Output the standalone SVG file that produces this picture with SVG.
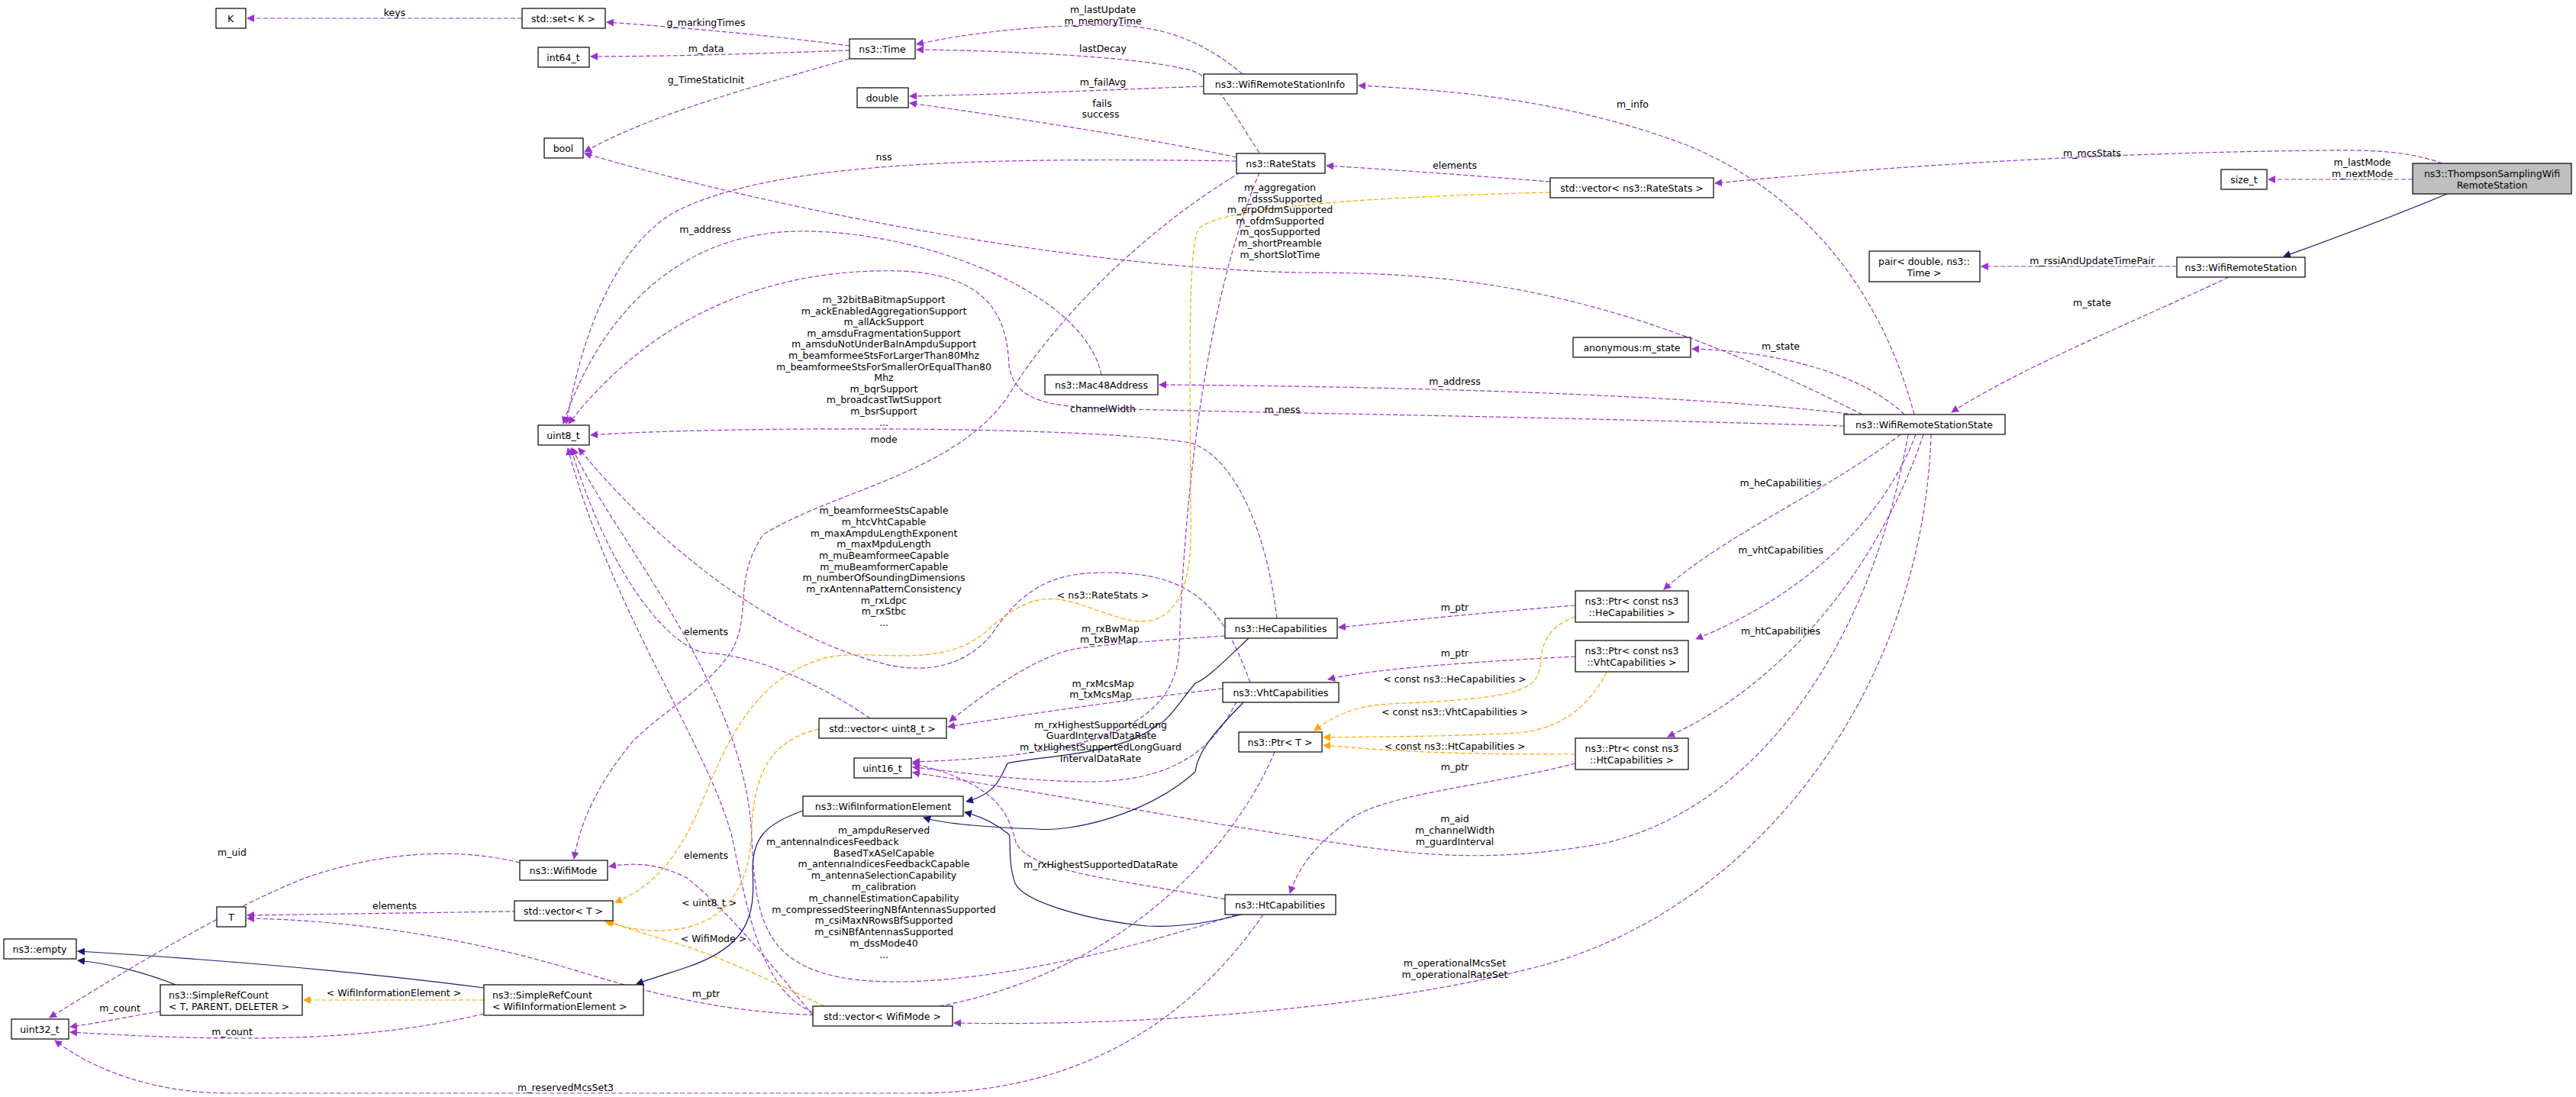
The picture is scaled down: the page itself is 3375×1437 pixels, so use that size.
<svg xmlns="http://www.w3.org/2000/svg" width="3375" height="1437" viewBox="0 0 3375 1437">
<style>
text{font-family:"DejaVu Sans","Liberation Sans",sans-serif;font-size:12.5px;fill:#000;text-anchor:middle;dominant-baseline:central}
.n rect{fill:#fff;stroke:#000;stroke-width:1.2}
.n rect.g{fill:#bfbfbf}
.p{fill:none;stroke:#9a32cd;stroke-width:1.2;stroke-dasharray:6,3;marker-end:url(#mp)}
.o{fill:none;stroke:#ffa500;stroke-width:1.2;stroke-dasharray:6,3;marker-end:url(#mo)}
.b{fill:none;stroke:#191970;stroke-width:1.2;marker-end:url(#mb)}
</style>
<defs>
<marker id="mp" viewBox="0 0 10 10" refX="9" refY="5" markerWidth="10" markerHeight="10" markerUnits="userSpaceOnUse" orient="auto"><path d="M0,0L10,5L0,10z" fill="#9a32cd"/></marker>
<marker id="mo" viewBox="0 0 10 10" refX="9" refY="5" markerWidth="10" markerHeight="10" markerUnits="userSpaceOnUse" orient="auto"><path d="M0,0L10,5L0,10z" fill="#ffa500"/></marker>
<marker id="mb" viewBox="0 0 10 10" refX="9" refY="5" markerWidth="10" markerHeight="10" markerUnits="userSpaceOnUse" orient="auto"><path d="M0,0L10,5L0,10z" fill="#191970"/></marker>
</defs>
<rect width="3375" height="1437" fill="#fff"/>
<g id="edges">
<path class="p" d="M684,24L324,24"/>
<path class="p" d="M1113,60C1000,45 880,35 795,29"/>
<path class="p" d="M1113,66C1000,70 880,74 774,74"/>
<path class="p" d="M1113,77C1000,110 850,150 766,199"/>
<path class="p" d="M1628,97C1560,40 1500,33 1445,33C1350,33 1260,45 1201,58"/>
<path class="p" d="M1650,200C1610,140 1590,95 1551,90C1480,73 1300,66 1201,65"/>
<path class="p" d="M1577,113C1450,118 1300,124 1192,126"/>
<path class="p" d="M1620,206C1500,180 1300,150 1192,135"/>
<path class="p" d="M1620,211C1250,205 1000,215 880,280C800,330 760,450 742,555"/>
<path class="p" d="M2440,543C2100,370 1900,357 1700,357C1400,350 1000,270 766,201"/>
<path class="p" d="M2508,543C2470,400 2380,260 2210,190C2050,130 1900,118 1780,112"/>
<path class="p" d="M2031,238C1930,230 1820,222 1738,217"/>
<path class="p" d="M3200,214C3160,200 3120,196 3050,197C2700,200 2400,225 2247,240"/>
<path class="p" d="M3161,235L2972,235"/>
<path class="p" d="M2852,349L2596,349"/>
<path class="p" d="M2920,363C2800,420 2650,480 2557,540"/>
<path class="p" d="M2495,543C2440,490 2330,460 2217,457"/>
<path class="p" d="M2430,543C2200,515 1800,506 1519,504"/>
<path class="p" d="M2416,558C2000,545 1600,540 1445,535C1360,532 1330,520 1322,480C1320,420 1300,360 1180,355C1000,350 850,420 745,555"/>
<path class="p" d="M1673,810C1660,700 1620,600 1560,580C1400,555 900,560 774,570"/>
<path class="p" d="M1443,491C1420,380 1200,300 1044,303C900,305 790,400 738,555"/>
<path class="p" d="M1625,226C1500,300 1380,420 1320,520C1250,620 1100,640 1000,700C960,760 985,800 960,850C930,900 870,930 830,970C780,1030 760,1080 752,1125"/>
<path class="p" d="M1650,226C1570,420 1550,700 1545,850C1540,950 1440,990 1196,998"/>
<path class="p" d="M1638,894C1600,790 1560,750 1447,750C1380,750 1340,770 1300,830C1260,880 1200,880 1160,870C1000,830 850,700 758,587"/>
<path class="p" d="M1140,941C1080,900 1000,860 925,855C880,850 800,760 748,587"/>
<path class="p" d="M1620,1198C1400,1270 1200,1300 1100,1280C1000,1260 990,1200 985,1100C980,900 800,700 750,587"/>
<path class="p" d="M1065,1326C1000,1300 980,1200 960,1100C930,980 800,800 744,587"/>
<path class="p" d="M1602,902C1450,920 1350,935 1242,952"/>
<path class="p" d="M1605,833C1500,840 1440,845 1408,850C1360,860 1300,900 1244,945"/>
<path class="p" d="M1620,919C1590,980 1540,1025 1420,1024C1320,1022 1250,1010 1196,1005"/>
<path class="p" d="M1605,1178C1450,1150 1340,1140 1330,1100C1320,1060 1300,1025 1196,1000"/>
<path class="p" d="M2500,569C2450,850 2300,1060 2100,1105C1900,1140 1800,1110 1600,1080C1400,1045 1250,1020 1196,1012"/>
<path class="p" d="M2490,569C2400,640 2260,700 2180,772"/>
<path class="p" d="M2510,569C2460,700 2340,790 2222,837"/>
<path class="p" d="M2520,569C2460,750 2330,900 2185,965"/>
<path class="p" d="M2530,569C2520,900 2300,1200 2000,1270C1800,1320 1500,1345 1250,1340"/>
<path class="p" d="M1655,1198C1550,1350 1400,1432 1200,1432L300,1432C200,1432 120,1400 72,1363"/>
<path class="p" d="M2064,793C1950,802 1850,812 1754,822"/>
<path class="p" d="M2064,860C1950,866 1800,875 1740,890"/>
<path class="p" d="M2064,1000C1950,1030 1800,1040 1760,1080C1720,1110 1700,1140 1690,1170"/>
<path class="p" d="M1670,985C1600,1150 1400,1330 1100,1330C950,1330 850,1300 750,1270C600,1225 450,1205 324,1203"/>
<path class="p" d="M803,1192L324,1199"/>
<path class="p" d="M1065,1330C1000,1250 950,1190 900,1150C860,1130 830,1130 798,1135"/>
<path class="p" d="M681,1130C600,1110 500,1115 400,1150C300,1190 200,1250 65,1333"/>
<path class="p" d="M210,1325C160,1333 130,1340 92,1345"/>
<path class="p" d="M634,1328C500,1360 350,1368 92,1352"/>
<path class="o" d="M634,1310L398,1310"/>
<path class="b" d="M230,1290C180,1270 140,1262 102,1258"/>
<path class="b" d="M634,1294C450,1270 250,1255 102,1246"/>
<path class="b" d="M1052,1062C1000,1080 986,1100 986,1140C990,1200 980,1240 900,1267C870,1277 850,1283 834,1289"/>
<path class="b" d="M1636,836C1600,870 1580,890 1566,895C1545,920 1530,945 1517,949C1470,990 1360,990 1320,1000C1310,1020 1305,1040 1266,1050"/>
<path class="b" d="M1630,919C1600,950 1570,980 1566,1011C1500,1070 1400,1090 1359,1086C1300,1084 1240,1080 1210,1071"/>
<path class="b" d="M1626,1198C1580,1210 1540,1215 1503,1213C1420,1205 1340,1180 1330,1157C1320,1130 1325,1100 1322,1093C1300,1075 1280,1068 1264,1064"/>
<path class="b" d="M3206,254C3120,290 3050,315 2992,336"/>
<path class="o" d="M2031,252C1800,258 1600,270 1570,300C1555,330 1560,500 1560,700C1560,770 1540,830 1470,810C1400,790 1370,760 1300,820C1240,880 1150,850 1090,860C1000,880 960,950 920,1050C890,1120 860,1160 806,1182"/>
<path class="o" d="M1073,955C1010,970 990,1010 985,1080C985,1150 960,1200 900,1215C850,1225 820,1215 792,1206"/>
<path class="o" d="M1080,1318C1020,1290 960,1260 900,1240C850,1225 820,1215 795,1207"/>
<path class="o" d="M2064,808C2030,820 2020,840 2018,870C2015,905 1990,915 1820,922C1770,925 1745,940 1722,957"/>
<path class="o" d="M2105,880C2080,930 2040,955 1990,960C1900,965 1800,965 1734,966"/>
<path class="o" d="M2064,988C1950,988 1850,987 1734,976"/>
</g>
<g id="labels">
<text x="517" y="16">keys</text>
<text x="925" y="29">g_markingTimes</text>
<text x="925" y="63">m_data</text>
<text x="925" y="104">g_TimeStaticInit</text>
<text x="1445" y="12">m_lastUpdate</text><text x="1445" y="27">m_memoryTime</text>
<text x="1445" y="63">lastDecay</text>
<text x="1445" y="107">m_failAvg</text>
<text x="1444" y="135">fails</text><text x="1442" y="149">success</text>
<text x="1158" y="205">nss</text>
<text x="1906" y="216">elements</text>
<text x="2139" y="136">m_info</text>
<text x="2741" y="200">m_mcsStats</text>
<text x="3095" y="212">m_lastMode</text><text x="3095" y="227">m_nextMode</text>
<text x="1677" y="245">m_aggregation</text><text x="1677" y="260">m_dsssSupported</text><text x="1677" y="274">m_erpOfdmSupported</text><text x="1677" y="289">m_ofdmSupported</text><text x="1677" y="303">m_qosSupported</text><text x="1677" y="318">m_shortPreamble</text><text x="1677" y="333">m_shortSlotTime</text>
<text x="924" y="300">m_address</text>
<text x="1158" y="392">m_32bitBaBitmapSupport</text><text x="1158" y="407">m_ackEnabledAggregationSupport</text><text x="1158" y="421">m_allAckSupport</text><text x="1158" y="436">m_amsduFragmentationSupport</text><text x="1158" y="450">m_amsduNotUnderBaInAmpduSupport</text><text x="1158" y="465">m_beamformeeStsForLargerThan80Mhz</text><text x="1158" y="480">m_beamformeeStsForSmallerOrEqualThan80</text><text x="1158" y="494">Mhz</text><text x="1158" y="509">m_bqrSupport</text><text x="1158" y="523">m_broadcastTwtSupport</text><text x="1158" y="538">m_bsrSupport</text><text x="1158" y="553">...</text>
<text x="2741" y="341">m_rssiAndUpdateTimePair</text>
<text x="2741" y="396">m_state</text>
<text x="2333" y="453">m_state</text>
<text x="1906" y="499">m_address</text>
<text x="1445" y="535">channelWidth</text><text x="1680" y="536">m_ness</text>
<text x="1158" y="575">mode</text>
<text x="2333" y="632">m_heCapabilities</text>
<text x="1158" y="668">m_beamformeeStsCapable</text><text x="1158" y="683">m_htcVhtCapable</text><text x="1158" y="698">m_maxAmpduLengthExponent</text><text x="1158" y="712">m_maxMpduLength</text><text x="1158" y="727">m_muBeamformeeCapable</text><text x="1158" y="742">m_muBeamformerCapable</text><text x="1158" y="756">m_numberOfSoundingDimensions</text><text x="1158" y="771">m_rxAntennaPatternConsistency</text><text x="1158" y="786">m_rxLdpc</text><text x="1158" y="800">m_rxStbc</text><text x="1158" y="815">...</text>
<text x="2333" y="720">m_vhtCapabilities</text>
<text x="1445" y="779">&lt; ns3::RateStats &gt;</text>
<text x="1906" y="795">m_ptr</text>
<text x="1455" y="823">m_rxBwMap</text><text x="1453" y="837">m_txBwMap</text>
<text x="925" y="827">elements</text>
<text x="2333" y="826">m_htCapabilities</text>
<text x="1906" y="855">m_ptr</text>
<text x="1906" y="889">&lt; const ns3::HeCapabilities &gt;</text>
<text x="1445" y="895">m_rxMcsMap</text><text x="1442" y="909">m_txMcsMap</text>
<text x="1906" y="932">&lt; const ns3::VhtCapabilities &gt;</text>
<text x="1442" y="949">m_rxHighestSupportedLong</text><text x="1443" y="963">GuardIntervalDataRate</text><text x="1442" y="978">m_txHighestSupportedLongGuard</text><text x="1442" y="993">IntervalDataRate</text>
<text x="1906" y="977">&lt; const ns3::HtCapabilities &gt;</text>
<text x="1906" y="1004">m_ptr</text>
<text x="1906" y="1072">m_aid</text><text x="1906" y="1087">m_channelWidth</text><text x="1906" y="1102">m_guardInterval</text>
<text x="1158" y="1087">m_ampduReserved</text><text x="1004" y="1102" style="text-anchor:start">m_antennaIndicesFeedback</text><text x="1224" y="1117" style="text-anchor:end">BasedTxASelCapable</text><text x="1158" y="1131">m_antennaIndicesFeedbackCapable</text><text x="1158" y="1146">m_antennaSelectionCapability</text><text x="1158" y="1161">m_calibration</text><text x="1158" y="1176">m_channelEstimationCapability</text><text x="1158" y="1191">m_compressedSteeringNBfAntennasSupported</text><text x="1158" y="1205">m_csiMaxNRowsBfSupported</text><text x="1158" y="1220">m_csiNBfAntennasSupported</text><text x="1158" y="1235">m_dssMode40</text><text x="1158" y="1250">...</text>
<text x="304" y="1116">m_uid</text>
<text x="925" y="1120">elements</text>
<text x="1442" y="1132">m_rxHighestSupportedDataRate</text>
<text x="929" y="1182">&lt; uint8_t &gt;</text>
<text x="517" y="1186">elements</text>
<text x="935" y="1229">&lt; WifiMode &gt;</text>
<text x="1906" y="1261">m_operationalMcsSet</text><text x="1906" y="1276">m_operationalRateSet</text>
<text x="516" y="1300">&lt; WifiInformationElement &gt;</text>
<text x="925" y="1301">m_ptr</text>
<text x="157" y="1320">m_count</text>
<text x="304" y="1351">m_count</text>
<text x="741" y="1424">m_reservedMcsSet3</text>
</g>
<g id="n_K" class="n"><rect x="283" y="11" width="39" height="26"/><text x="302" y="24">K</text></g>
<g id="n_setK" class="n"><rect x="684" y="11" width="109" height="26"/><text x="738" y="24">std::set&lt; K &gt;</text></g>
<g id="n_int64" class="n"><rect x="705" y="62" width="67" height="26"/><text x="738" y="75">int64_t</text></g>
<g id="n_bool" class="n"><rect x="713" y="181" width="51" height="26"/><text x="738" y="194">bool</text></g>
<g id="n_Time" class="n"><rect x="1113" y="51" width="86" height="26"/><text x="1156" y="64">ns3::Time</text></g>
<g id="n_double" class="n"><rect x="1123" y="115" width="67" height="26"/><text x="1156" y="128">double</text></g>
<g id="n_Info" class="n"><rect x="1577" y="97" width="201" height="26"/><text x="1677" y="110">ns3::WifiRemoteStationInfo</text></g>
<g id="n_RateStats" class="n"><rect x="1620" y="201" width="116" height="26"/><text x="1678" y="214">ns3::RateStats</text></g>
<g id="n_vecRS" class="n"><rect x="2031" y="233" width="214" height="26"/><text x="2138" y="246">std::vector&lt; ns3::RateStats &gt;</text></g>
<g id="n_sizet" class="n"><rect x="2910" y="222" width="60" height="26"/><text x="2940" y="235">size_t</text></g>
<g id="n_Thompson" class="n"><rect class="g" x="3161" y="214" width="208" height="40"/><text x="3265" y="227">ns3::ThompsonSamplingWifi</text><text x="3265" y="242">RemoteStation</text></g>
<g id="n_pair" class="n"><rect x="2449" y="329" width="145" height="40"/><text x="2521" y="342">pair&lt; double, ns3::</text><text x="2521" y="357">Time &gt;</text></g>
<g id="n_WRS" class="n"><rect x="2852" y="337" width="168" height="26"/><text x="2936" y="350">ns3::WifiRemoteStation</text></g>
<g id="n_anon" class="n"><rect x="2061" y="442" width="154" height="26"/><text x="2138" y="455">anonymous:m_state</text></g>
<g id="n_Mac48" class="n"><rect x="1369" y="491" width="148" height="26"/><text x="1443" y="504">ns3::Mac48Address</text></g>
<g id="n_State" class="n"><rect x="2416" y="543" width="211" height="26"/><text x="2521" y="556">ns3::WifiRemoteStationState</text></g>
<g id="n_uint8" class="n"><rect x="705" y="557" width="67" height="26"/><text x="738" y="570">uint8_t</text></g>
<g id="n_HeCap" class="n"><rect x="1605" y="810" width="147" height="26"/><text x="1678" y="823">ns3::HeCapabilities</text></g>
<g id="n_HePtr" class="n"><rect x="2064" y="774" width="148" height="41"/><text x="2138" y="787">ns3::Ptr&lt; const ns3</text><text x="2138" y="802">::HeCapabilities &gt;</text></g>
<g id="n_VhtCap" class="n"><rect x="1602" y="894" width="152" height="26"/><text x="1678" y="907">ns3::VhtCapabilities</text></g>
<g id="n_VhtPtr" class="n"><rect x="2064" y="839" width="148" height="41"/><text x="2138" y="852">ns3::Ptr&lt; const ns3</text><text x="2138" y="867">::VhtCapabilities &gt;</text></g>
<g id="n_vecU8" class="n"><rect x="1073" y="941" width="167" height="26"/><text x="1156" y="954">std::vector&lt; uint8_t &gt;</text></g>
<g id="n_PtrT" class="n"><rect x="1623" y="959" width="109" height="26"/><text x="1677" y="972">ns3::Ptr&lt; T &gt;</text></g>
<g id="n_HtPtr" class="n"><rect x="2064" y="967" width="148" height="41"/><text x="2138" y="980">ns3::Ptr&lt; const ns3</text><text x="2138" y="995">::HtCapabilities &gt;</text></g>
<g id="n_uint16" class="n"><rect x="1119" y="993" width="75" height="26"/><text x="1156" y="1006">uint16_t</text></g>
<g id="n_WIE" class="n"><rect x="1052" y="1043" width="210" height="26"/><text x="1157" y="1056">ns3::WifiInformationElement</text></g>
<g id="n_WifiMode" class="n"><rect x="681" y="1127" width="115" height="26"/><text x="738" y="1140">ns3::WifiMode</text></g>
<g id="n_HtCap" class="n"><rect x="1605" y="1172" width="145" height="26"/><text x="1677" y="1185">ns3::HtCapabilities</text></g>
<g id="n_vecT" class="n"><rect x="674" y="1180" width="129" height="26"/><text x="738" y="1193">std::vector&lt; T &gt;</text></g>
<g id="n_T" class="n"><rect x="284" y="1188" width="38" height="26"/><text x="303" y="1201">T</text></g>
<g id="n_empty" class="n"><rect x="5" y="1230" width="95" height="26"/><text x="52" y="1243">ns3::empty</text></g>
<g id="n_SRC1" class="n"><rect x="210" y="1290" width="186" height="40"/><text x="221" y="1303" style="text-anchor:start">ns3::SimpleRefCount</text><text x="221" y="1318" style="text-anchor:start">&lt; T, PARENT, DELETER &gt;</text></g>
<g id="n_SRC2" class="n"><rect x="634" y="1290" width="209" height="40"/><text x="645" y="1303" style="text-anchor:start">ns3::SimpleRefCount</text><text x="645" y="1318" style="text-anchor:start">&lt; WifiInformationElement &gt;</text></g>
<g id="n_vecWM" class="n"><rect x="1065" y="1318" width="183" height="26"/><text x="1156" y="1331">std::vector&lt; WifiMode &gt;</text></g>
<g id="n_uint32" class="n"><rect x="15" y="1335" width="75" height="26"/><text x="52" y="1348">uint32_t</text></g>
</svg>
